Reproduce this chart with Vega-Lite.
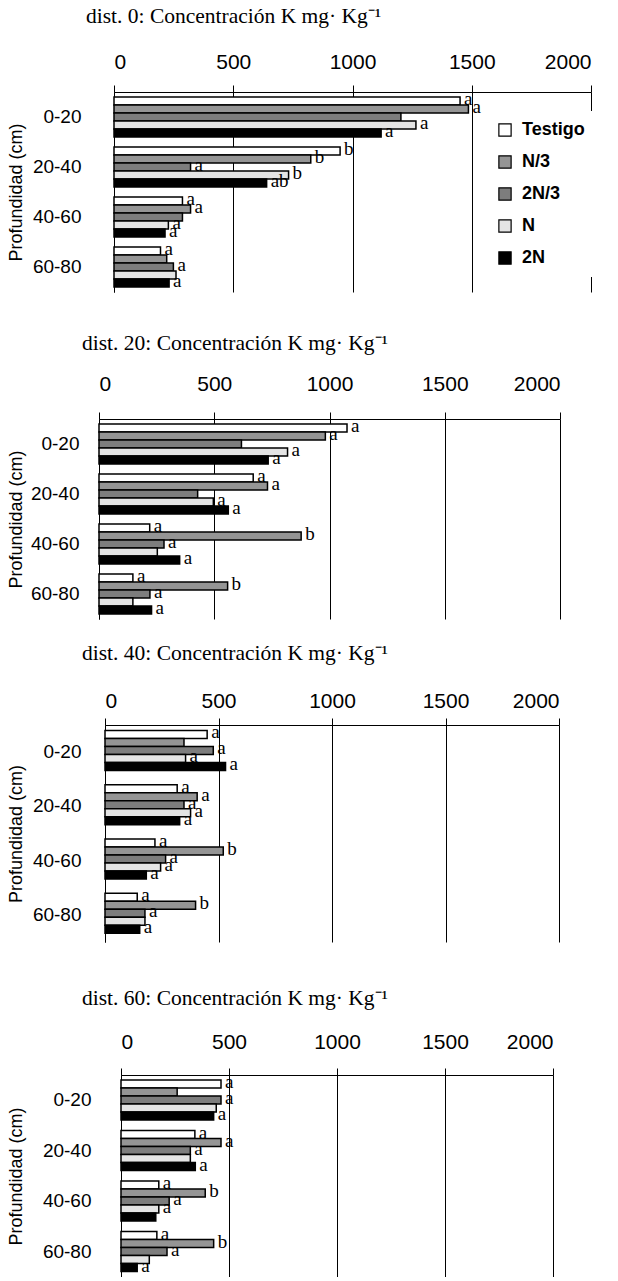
{
  "$schema": "https://vega.github.io/schema/vega-lite/v6.json",
  "padding": {"left": 7, "top": 5, "right": 0, "bottom": 0},
  "background": "white",
  "data": {"values": [
    {"dist": 0, "depth": "0-20", "trat": "Testigo", "k": 1451, "sig": "a"},
    {"dist": 0, "depth": "0-20", "trat": "N/3", "k": 1486, "sig": "a"},
    {"dist": 0, "depth": "0-20", "trat": "2N/3", "k": 1203, "sig": ""},
    {"dist": 0, "depth": "0-20", "trat": "N", "k": 1266, "sig": "a"},
    {"dist": 0, "depth": "0-20", "trat": "2N", "k": 1120, "sig": "a"},
    {"dist": 0, "depth": "20-40", "trat": "Testigo", "k": 948, "sig": "b"},
    {"dist": 0, "depth": "20-40", "trat": "N/3", "k": 825, "sig": "b"},
    {"dist": 0, "depth": "20-40", "trat": "2N/3", "k": 321, "sig": "a"},
    {"dist": 0, "depth": "20-40", "trat": "N", "k": 732, "sig": "b"},
    {"dist": 0, "depth": "20-40", "trat": "2N", "k": 640, "sig": "ab"},
    {"dist": 0, "depth": "40-60", "trat": "Testigo", "k": 287, "sig": "a"},
    {"dist": 0, "depth": "40-60", "trat": "N/3", "k": 321, "sig": "a"},
    {"dist": 0, "depth": "40-60", "trat": "2N/3", "k": 287, "sig": ""},
    {"dist": 0, "depth": "40-60", "trat": "N", "k": 228, "sig": "a"},
    {"dist": 0, "depth": "40-60", "trat": "2N", "k": 214, "sig": "a"},
    {"dist": 0, "depth": "60-80", "trat": "Testigo", "k": 195, "sig": "a"},
    {"dist": 0, "depth": "60-80", "trat": "N/3", "k": 221, "sig": ""},
    {"dist": 0, "depth": "60-80", "trat": "2N/3", "k": 249, "sig": "a"},
    {"dist": 0, "depth": "60-80", "trat": "N", "k": 260, "sig": ""},
    {"dist": 0, "depth": "60-80", "trat": "2N", "k": 231, "sig": "a"},
    {"dist": 20, "depth": "0-20", "trat": "Testigo", "k": 1076, "sig": "a"},
    {"dist": 20, "depth": "0-20", "trat": "N/3", "k": 982, "sig": "a"},
    {"dist": 20, "depth": "0-20", "trat": "2N/3", "k": 618, "sig": ""},
    {"dist": 20, "depth": "0-20", "trat": "N", "k": 818, "sig": "a"},
    {"dist": 20, "depth": "0-20", "trat": "2N", "k": 734, "sig": "a"},
    {"dist": 20, "depth": "20-40", "trat": "Testigo", "k": 669, "sig": "a"},
    {"dist": 20, "depth": "20-40", "trat": "N/3", "k": 731, "sig": "a"},
    {"dist": 20, "depth": "20-40", "trat": "2N/3", "k": 428, "sig": ""},
    {"dist": 20, "depth": "20-40", "trat": "N", "k": 496, "sig": "a"},
    {"dist": 20, "depth": "20-40", "trat": "2N", "k": 561, "sig": "a"},
    {"dist": 20, "depth": "40-60", "trat": "Testigo", "k": 220, "sig": "a"},
    {"dist": 20, "depth": "40-60", "trat": "N/3", "k": 877, "sig": "b"},
    {"dist": 20, "depth": "40-60", "trat": "2N/3", "k": 282, "sig": "a"},
    {"dist": 20, "depth": "40-60", "trat": "N", "k": 253, "sig": ""},
    {"dist": 20, "depth": "40-60", "trat": "2N", "k": 350, "sig": "a"},
    {"dist": 20, "depth": "60-80", "trat": "Testigo", "k": 147, "sig": "a"},
    {"dist": 20, "depth": "60-80", "trat": "N/3", "k": 558, "sig": "b"},
    {"dist": 20, "depth": "60-80", "trat": "2N/3", "k": 221, "sig": "a"},
    {"dist": 20, "depth": "60-80", "trat": "N", "k": 147, "sig": ""},
    {"dist": 20, "depth": "60-80", "trat": "2N", "k": 228, "sig": "a"},
    {"dist": 40, "depth": "0-20", "trat": "Testigo", "k": 450, "sig": "a"},
    {"dist": 40, "depth": "0-20", "trat": "N/3", "k": 348, "sig": ""},
    {"dist": 40, "depth": "0-20", "trat": "2N/3", "k": 477, "sig": "a"},
    {"dist": 40, "depth": "0-20", "trat": "N", "k": 355, "sig": "a"},
    {"dist": 40, "depth": "0-20", "trat": "2N", "k": 531, "sig": "a"},
    {"dist": 40, "depth": "20-40", "trat": "Testigo", "k": 318, "sig": "a"},
    {"dist": 40, "depth": "20-40", "trat": "N/3", "k": 406, "sig": "a"},
    {"dist": 40, "depth": "20-40", "trat": "2N/3", "k": 348, "sig": "a"},
    {"dist": 40, "depth": "20-40", "trat": "N", "k": 377, "sig": "a"},
    {"dist": 40, "depth": "20-40", "trat": "2N", "k": 329, "sig": "a"},
    {"dist": 40, "depth": "40-60", "trat": "Testigo", "k": 220, "sig": "a"},
    {"dist": 40, "depth": "40-60", "trat": "N/3", "k": 521, "sig": "b"},
    {"dist": 40, "depth": "40-60", "trat": "2N/3", "k": 267, "sig": "a"},
    {"dist": 40, "depth": "40-60", "trat": "N", "k": 245, "sig": "a"},
    {"dist": 40, "depth": "40-60", "trat": "2N", "k": 182, "sig": "a"},
    {"dist": 40, "depth": "60-80", "trat": "Testigo", "k": 142, "sig": "a"},
    {"dist": 40, "depth": "60-80", "trat": "N/3", "k": 399, "sig": "b"},
    {"dist": 40, "depth": "60-80", "trat": "2N/3", "k": 176, "sig": "a"},
    {"dist": 40, "depth": "60-80", "trat": "N", "k": 176, "sig": ""},
    {"dist": 40, "depth": "60-80", "trat": "2N", "k": 153, "sig": "a"},
    {"dist": 60, "depth": "0-20", "trat": "Testigo", "k": 463, "sig": "a"},
    {"dist": 60, "depth": "0-20", "trat": "N/3", "k": 260, "sig": ""},
    {"dist": 60, "depth": "0-20", "trat": "2N/3", "k": 463, "sig": "a"},
    {"dist": 60, "depth": "0-20", "trat": "N", "k": 441, "sig": ""},
    {"dist": 60, "depth": "0-20", "trat": "2N", "k": 429, "sig": "a"},
    {"dist": 60, "depth": "20-40", "trat": "Testigo", "k": 342, "sig": "a"},
    {"dist": 60, "depth": "20-40", "trat": "N/3", "k": 463, "sig": "a"},
    {"dist": 60, "depth": "20-40", "trat": "2N/3", "k": 321, "sig": "a"},
    {"dist": 60, "depth": "20-40", "trat": "N", "k": 321, "sig": ""},
    {"dist": 60, "depth": "20-40", "trat": "2N", "k": 344, "sig": "a"},
    {"dist": 60, "depth": "40-60", "trat": "Testigo", "k": 175, "sig": "a"},
    {"dist": 60, "depth": "40-60", "trat": "N/3", "k": 390, "sig": "b"},
    {"dist": 60, "depth": "40-60", "trat": "2N/3", "k": 223, "sig": "a"},
    {"dist": 60, "depth": "40-60", "trat": "N", "k": 175, "sig": "a"},
    {"dist": 60, "depth": "40-60", "trat": "2N", "k": 161, "sig": ""},
    {"dist": 60, "depth": "60-80", "trat": "Testigo", "k": 166, "sig": "a"},
    {"dist": 60, "depth": "60-80", "trat": "N/3", "k": 429, "sig": "b"},
    {"dist": 60, "depth": "60-80", "trat": "2N/3", "k": 213, "sig": "a"},
    {"dist": 60, "depth": "60-80", "trat": "N", "k": 131, "sig": ""},
    {"dist": 60, "depth": "60-80", "trat": "2N", "k": 75, "sig": "a"}
  ]},
  "spacing": 45,
  "vconcat": [
    {
      "spacing": 40,
      "vconcat": [
        {
          "width": 492, "height": 200,
          "transform": [{"filter": "datum.dist == 0"}],
          "title": {"text": "dist. 0: Concentración K mg· Kg⁻¹", "anchor": "start", "dx": -13, "offset": 24},
          "encoding": {
            "y": {"field": "depth", "type": "nominal", "sort": ["0-20", "20-40", "40-60", "60-80"], "scale": {"paddingInner": 0.2, "paddingOuter": 0.1},
                  "axis": {"title": "Profundidad (cm)", "offset": -15, "labelPadding": 33, "titlePadding": 7}},
            "yOffset": {"field": "trat", "type": "nominal", "sort": ["Testigo", "N/3", "2N/3", "N", "2N"]},
            "x": {"field": "k", "type": "quantitative", "scale": {"domain": [0, 2000], "nice": false, "range": [15, 492]}, "axis": {"orient": "top", "values": [0, 500, 1000, 1500, 2000], "format": "d", "title": null, "labelPadding": 13}}
          },
          "layer": [
            {"mark": {"type": "bar", "stroke": "black", "strokeWidth": 1.5},
             "encoding": {"fill": {"field": "trat", "type": "nominal", "sort": ["Testigo", "N/3", "2N/3", "N", "2N"],
               "scale": {"domain": ["Testigo", "N/3", "2N/3", "N", "2N"], "range": ["white", "#959595", "#7d7d7d", "#e4e4e4", "black"]},
               "legend": {"orient": "none", "legendX": 387, "legendY": 19, "title": null, "fillColor": "white", "padding": 10,
                 "symbolType": "square", "symbolSize": 150, "symbolStrokeColor": "black", "symbolStrokeWidth": 1.2, "labelOffset": 8,
                 "labelFont": "Liberation Sans", "labelFontWeight": "bold", "labelFontSize": 18, "labelColor": "black", "rowPadding": 14}}}},
            {"mark": {"type": "text", "align": "left", "baseline": "middle", "dx": 4, "dy": -2, "font": "Liberation Serif", "fontSize": 19, "color": "black"},
             "encoding": {"text": {"field": "sig"}}}
          ]
        },
        {
          "spacing": 23,
          "vconcat": [
            {
              "width": 461, "height": 200,
              "transform": [{"filter": "datum.dist == 20"}],
              "title": {"text": "dist. 20: Concentración K mg· Kg⁻¹", "anchor": "start", "dx": -17, "offset": 19},
              "encoding": {
                "y": {"field": "depth", "type": "nominal", "sort": ["0-20", "20-40", "40-60", "60-80"], "scale": {"paddingInner": 0.2, "paddingOuter": 0.1},
                      "axis": {"title": "Profundidad (cm)", "offset": 0, "labelPadding": 20, "titlePadding": 5}},
                "yOffset": {"field": "trat", "type": "nominal", "sort": ["Testigo", "N/3", "2N/3", "N", "2N"]},
                "x": {"field": "k", "type": "quantitative", "scale": {"domain": [0, 2000], "nice": false, "range": [0, 461]}, "axis": {"orient": "top", "values": [0, 500, 1000, 1500, 2000], "format": "d", "title": null, "labelPadding": 18}}
              },
              "layer": [
                {"mark": {"type": "bar", "stroke": "black", "strokeWidth": 1.5},
                 "encoding": {"fill": {"field": "trat", "type": "nominal", "sort": ["Testigo", "N/3", "2N/3", "N", "2N"],
                   "scale": {"domain": ["Testigo", "N/3", "2N/3", "N", "2N"], "range": ["white", "#959595", "#7d7d7d", "#e4e4e4", "black"]}, "legend": null}}},
                {"mark": {"type": "text", "align": "left", "baseline": "middle", "dx": 4, "dy": -2, "font": "Liberation Serif", "fontSize": 19, "color": "black"},
                 "encoding": {"text": {"field": "sig"}}}
              ]
            },
            {
              "width": 461, "height": 217,
              "transform": [{"filter": "datum.dist == 40"}],
              "title": {"text": "dist. 40: Concentración K mg· Kg⁻¹", "anchor": "start", "dx": -17, "offset": 26},
              "encoding": {
                "y": {"field": "depth", "type": "nominal", "sort": ["0-20", "20-40", "40-60", "60-80"], "scale": {"paddingInner": 0.2, "paddingOuter": 0.1},
                      "axis": {"title": "Profundidad (cm)", "offset": -6, "labelPadding": 24, "titlePadding": 7}},
                "yOffset": {"field": "trat", "type": "nominal", "sort": ["Testigo", "N/3", "2N/3", "N", "2N"]},
                "x": {"field": "k", "type": "quantitative", "scale": {"domain": [0, 2000], "nice": false, "range": [6, 460]}, "axis": {"orient": "top", "values": [0, 500, 1000, 1500, 2000], "format": "d", "title": null, "labelPadding": 7}}
              },
              "layer": [
                {"mark": {"type": "bar", "stroke": "black", "strokeWidth": 1.5},
                 "encoding": {"fill": {"field": "trat", "type": "nominal", "sort": ["Testigo", "N/3", "2N/3", "N", "2N"],
                   "scale": {"domain": ["Testigo", "N/3", "2N/3", "N", "2N"], "range": ["white", "#959595", "#7d7d7d", "#e4e4e4", "black"]}, "legend": null}}},
                {"mark": {"type": "text", "align": "left", "baseline": "middle", "dx": 4, "dy": -2, "font": "Liberation Serif", "fontSize": 19, "color": "black"},
                 "encoding": {"text": {"field": "sig"}}}
              ]
            }
          ]
        }
      ]
    },
    {
      "width": 454, "height": 202,
      "transform": [{"filter": "datum.dist == 60"}],
      "title": {"text": "dist. 60: Concentración K mg· Kg⁻¹", "anchor": "start", "dx": -17, "offset": 22},
      "encoding": {
        "y": {"field": "depth", "type": "nominal", "sort": ["0-20", "20-40", "40-60", "60-80"], "scale": {"paddingInner": 0.2, "paddingOuter": 0.1},
              "axis": {"title": "Profundidad (cm)", "offset": -22, "labelPadding": 30, "titlePadding": 17}},
        "yOffset": {"field": "trat", "type": "nominal", "sort": ["Testigo", "N/3", "2N/3", "N", "2N"]},
        "x": {"field": "k", "type": "quantitative", "scale": {"domain": [0, 2000], "nice": false, "range": [22, 454]}, "axis": {"orient": "top", "values": [0, 500, 1000, 1500, 2000], "format": "d", "title": null, "labelPadding": 16}}
      },
      "layer": [
        {"mark": {"type": "bar", "stroke": "black", "strokeWidth": 1.5},
         "encoding": {"fill": {"field": "trat", "type": "nominal", "sort": ["Testigo", "N/3", "2N/3", "N", "2N"],
           "scale": {"domain": ["Testigo", "N/3", "2N/3", "N", "2N"], "range": ["white", "#959595", "#7d7d7d", "#e4e4e4", "black"]}, "legend": null}}},
        {"mark": {"type": "text", "align": "left", "baseline": "middle", "dx": 4, "dy": -2, "font": "Liberation Serif", "fontSize": 19, "color": "black"},
         "encoding": {"text": {"field": "sig"}}}
      ]
    }
  ],
  "resolve": {"legend": {"fill": "independent"}, "scale": {"fill": "independent"}},
  "config": {
    "view": {"stroke": null},
    "title": {"font": "Liberation Serif", "fontSize": 21.5, "fontWeight": "normal", "color": "black", "frame": "group"},
    "axis": {"domainColor": "black", "domainWidth": 1, "gridColor": "black", "gridOpacity": 1, "gridWidth": 1,
             "tickColor": "black", "labelColor": "black", "titleColor": "black", "labelFont": "Liberation Sans", "titleFont": "Liberation Sans"},
    "axisX": {"grid": true, "tickSize": 7, "labelFontSize": 21, "labelAngle": 0},
    "axisY": {"ticks": false, "grid": false, "labelFontSize": 19, "titleFontSize": 18, "titleFontWeight": "normal"},
    "scale": {"offsetBandPaddingInner": 0, "offsetBandPaddingOuter": 0}
  }
}
